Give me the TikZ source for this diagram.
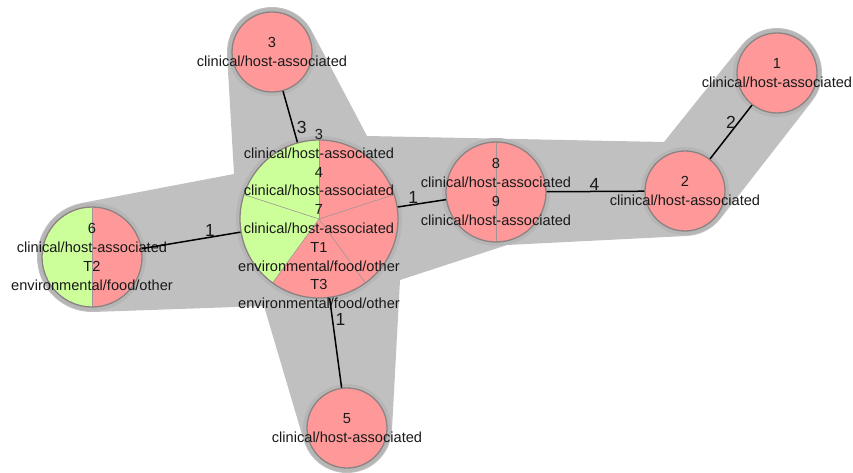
\documentclass[tikz,border=0pt]{standalone}
\usepackage{fontspec}
\setmainfont{Liberation Sans}
\usetikzlibrary{positioning}

\definecolor{hullgray}{HTML}{C0C0C0}
\definecolor{halogray}{HTML}{B6B6B6}
\definecolor{rimgray}{HTML}{8C8282}
\definecolor{slicegray}{HTML}{A09494}
\definecolor{hostred}{HTML}{FF9999}
\definecolor{envgreen}{HTML}{CCFF99}

\newcommand{\isofont}{\fontsize{14.6}{18.8}\selectfont}
\newcommand{\cntfont}{\fontsize{17.5}{18}\selectfont}

\tikzset{
  vtx/.style={circle, fill=hostred, draw=rimgray, line width=1.3pt, inner sep=0pt,
    minimum size=#1, preaction={draw=halogray, line width=8pt}},
  isolbl/.style={align=center, font=\isofont, inner sep=0pt, text=black!90},
  link/.style={line width=1.5pt, black},
  cnt/.style={font=\cntfont, inner sep=0pt, text=black!90},
  splitline/.style={path picture={
    \draw[slicegray, line width=0.6pt] (path picture bounding box.south) -- (path picture bounding box.north);}},
  splitgreen/.style={path picture={
    \fill[envgreen] (path picture bounding box.south west) rectangle (path picture bounding box.north);
    \draw[slicegray, line width=0.6pt] (path picture bounding box.south) -- (path picture bounding box.north);}},
  pie5/.style={path picture={
    \fill[envgreen] (path picture bounding box.center) -- ++(90:90)
      arc[start angle=90, end angle=234, radius=90] -- cycle;
    \foreach \a in {18,90,162,234,306}
      \draw[slicegray, line width=0.6pt] (path picture bounding box.center) -- ++(\a:80);}}
}

\begin{document}
\begin{tikzpicture}[x=1pt, y=1pt]
  \useasboundingbox (0,0) rectangle (853,472);

  % node centres
  \coordinate (p1) at (777,399);
  \coordinate (p2) at (685,281);
  \coordinate (p3) at (272,420);
  \coordinate (pC) at (319,253);
  \coordinate (p89) at (496,280);
  \coordinate (p6) at (92,215);
  \coordinate (p5) at (347,44);

  % group hull
  \fill[hullgray] (367,336)
    -- ([shift={(27:45)}]p3) arc[start angle=27, end angle=183, radius=45]
    -- (234,298)
    -- ([shift={(100.6:55)}]p6) arc[start angle=100.6, end angle=272, radius=55]
    -- (264,166)
    -- ([shift={(196.5:45)}]p5) arc[start angle=196.5, end angle=356.9, radius=45]
    -- (400,192)
    -- (507,227)
    -- ([shift={(272.9:45)}]p2) arc[start angle=272.9, end angle=322, radius=45]
    -- ([shift={(322:45)}]p1) arc[start angle=322, end angle=502, radius=45]
    -- (664,330)
    -- cycle;

  % isolates
  \node[vtx=80pt] (n1) at (p1) {};
  \node[vtx=80pt] (n2) at (p2) {};
  \node[vtx=80pt] (n3) at (p3) {};
  \node[vtx=80pt] (n5) at (p5) {};
  \node[vtx=100pt, splitline] (n89) at (p89) {};
  \node[vtx=100pt, splitgreen] (n6) at (p6) {};
  \node[vtx=158pt, pie5] (nC) at (pC) {};

  % labels
  \node[isolbl] (t1) at (p1) {1\\clinical/host-associated};
  \node[isolbl] (t2) at (p2) {2\\clinical/host-associated};
  \node[isolbl] (t3) at (p3) {3\\clinical/host-associated};
  \node[isolbl] (t5) at (p5) {5\\clinical/host-associated};
  \node[isolbl] (t89) at (p89) {8\\clinical/host-associated\\9\\clinical/host-associated};
  \node[isolbl] (t6) at (p6) {6\\clinical/host-associated\\T2\\environmental/food/other};
  \node[isolbl] (tC) at (pC) {3\\clinical/host-associated\\4\\clinical/host-associated\\7\\clinical/host-associated\\T1\\environmental/food/other\\T3\\environmental/food/other};

  % links
  \draw[link] (n3) -- node[cnt, pos=0.71, right=3pt] {3} (nC);
  \draw[link] (nC) -- node[cnt, pos=0.32, above] {1} (n89);
  \draw[link] (n89) -- node[cnt, pos=0.49, above] {4} (n2);
  \draw[link] (n2) -- node[cnt, pos=0.68, left=2pt] {2} (n1);
  \draw[link] (n6) -- node[cnt, pos=0.69, above] {1} (nC);
  \draw[link] (nC) -- node[cnt, pos=0.24, right=2.5pt] {1} (n5);
\end{tikzpicture}
\end{document}
